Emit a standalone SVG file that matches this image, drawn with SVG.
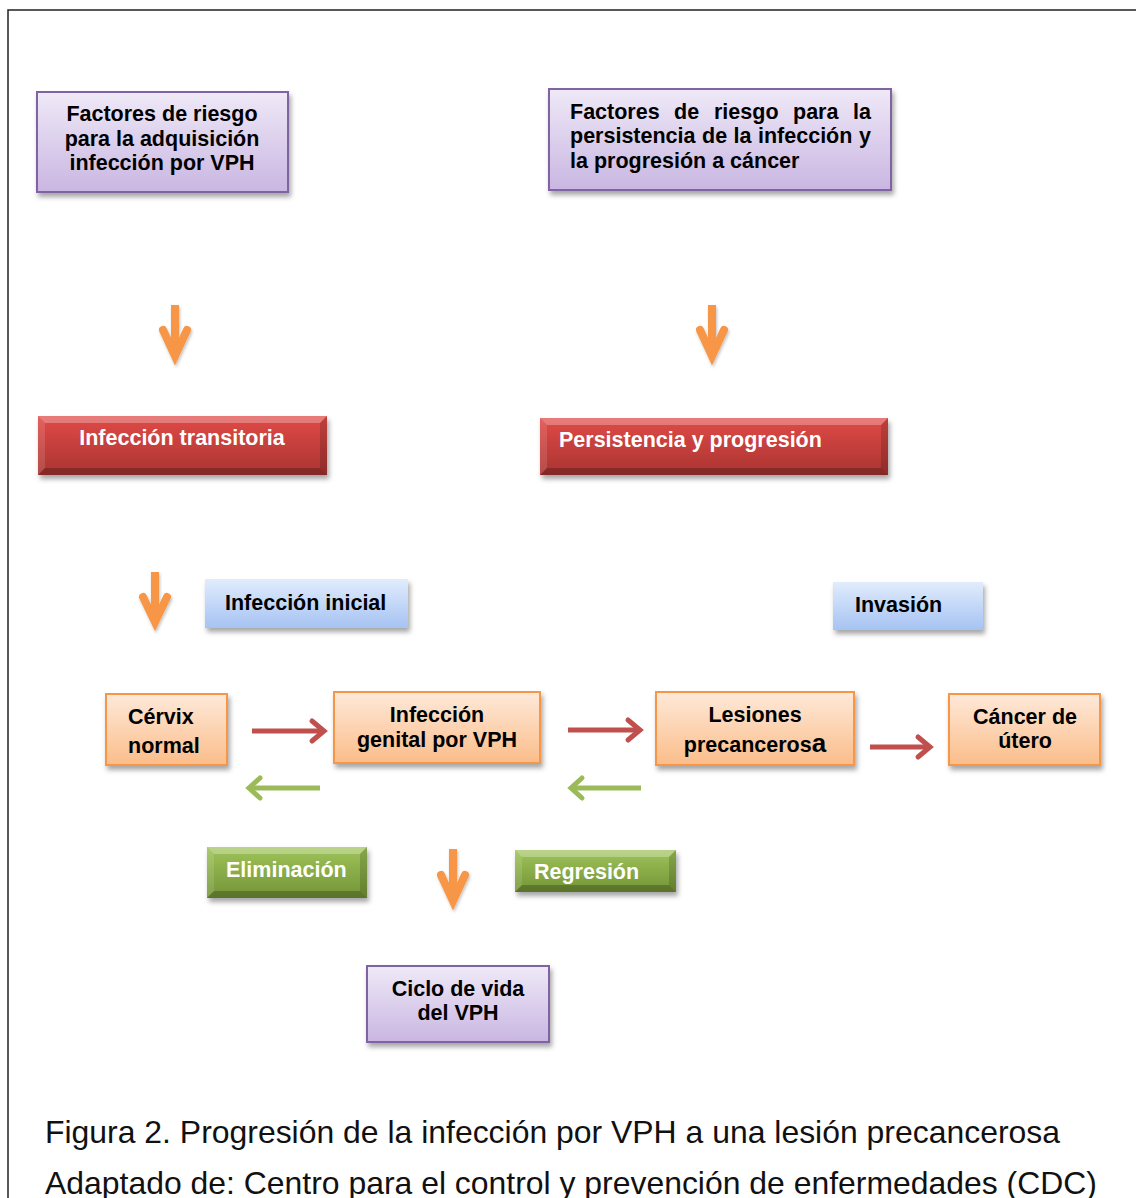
<svg xmlns="http://www.w3.org/2000/svg" width="1136" height="1198" viewBox="0 0 1136 1198">
<defs>
<linearGradient id="gPurple" x1="0" y1="0" x2="0" y2="1"><stop offset="0" stop-color="#efe9f7"/><stop offset="1" stop-color="#c9b6e2"/></linearGradient>
<linearGradient id="gOrange" x1="0" y1="0" x2="0" y2="1"><stop offset="0" stop-color="#fee9d9"/><stop offset="1" stop-color="#fbbd8a"/></linearGradient>
<linearGradient id="gBlue" x1="0" y1="0" x2="0" y2="1"><stop offset="0" stop-color="#e1ecfc"/><stop offset="1" stop-color="#a6c3f3"/></linearGradient>
<linearGradient id="gRed" x1="0" y1="0" x2="0" y2="1"><stop offset="0" stop-color="#e04a47"/><stop offset="1" stop-color="#a93431"/></linearGradient>
<linearGradient id="gGreen" x1="0" y1="0" x2="0" y2="1"><stop offset="0" stop-color="#9fc35a"/><stop offset="1" stop-color="#739436"/></linearGradient>
<filter id="sh" x="-10%" y="-20%" width="130%" height="160%"><feDropShadow dx="2" dy="4" stdDeviation="2.5" flood-color="#000" flood-opacity="0.35"/></filter>
<filter id="ash" x="-50%" y="-20%" width="200%" height="150%"><feDropShadow dx="1" dy="2" stdDeviation="1.5" flood-color="#000" flood-opacity="0.25"/></filter>
<style>
.t{font-family:"Liberation Sans",Arial,sans-serif;font-weight:bold;font-size:21.5px;fill:#000}
.w{font-family:"Liberation Sans",Arial,sans-serif;font-weight:bold;font-size:21.5px;fill:#fff}
.c{font-family:"Liberation Sans",Arial,sans-serif;font-size:31.5px;fill:#111}
.purple{fill:url(#gPurple);stroke:#8064a2;stroke-width:2}
.orange{fill:url(#gOrange);stroke:#f79646;stroke-width:2}
.blue{fill:url(#gBlue)}
.red{fill:url(#gRed)}
.green{fill:url(#gGreen)}
.bl{fill:#fff;opacity:0.28}
.bd{fill:#000;opacity:0.22}
.ao{fill:none;stroke:#f79646;stroke-width:8;stroke-linejoin:miter;stroke-linecap:round}
.ar{fill:none;stroke:#c0504d;stroke-width:5;stroke-linejoin:miter;stroke-linecap:round}
.ag{fill:none;stroke:#9bbb59;stroke-width:5;stroke-linejoin:miter;stroke-linecap:round}
.frame{fill:none;stroke:#222;stroke-width:1.5}
</style>
</defs>
<rect width="1136" height="1198" fill="#fff"/>
<path class="frame" d="M8,1198 V10 H1136"/>

<g id="connectors">
<g filter="url(#ash)">
<path class="ao" d="M175,305 V354" style="stroke-linecap:butt"/><path class="ao" d="M163,330 L175,356 L187,330"/>
<path class="ao" d="M712,305 V354" style="stroke-linecap:butt"/><path class="ao" d="M700,330 L712,356 L724,330"/>
<path class="ao" d="M155,572 V620" style="stroke-linecap:butt"/><path class="ao" d="M143,597 L155,622 L167,597"/>
<path class="ao" d="M453,849 V900" style="stroke-linecap:butt"/><path class="ao" d="M441,875 L453,901 L465,875"/>
</g>
<path class="ar" d="M252,731 H322" style="stroke-linecap:butt"/><path class="ar" d="M312,721 L324,731 L312,741"/>
<path class="ar" d="M568,730 H638" style="stroke-linecap:butt"/><path class="ar" d="M628,720 L640,730 L628,740"/>
<path class="ar" d="M870,747 H928" style="stroke-linecap:butt"/><path class="ar" d="M918,737 L930,747 L918,757"/>
<path class="ag" d="M320,788 H252" style="stroke-linecap:butt"/><path class="ag" d="M260,778 L249,788 L260,798"/>
<path class="ag" d="M641,788 H574" style="stroke-linecap:butt"/><path class="ag" d="M582,778 L571,788 L582,798"/>
</g>

<g id="n-factores-adq">
<rect class="purple" x="37" y="92" width="251" height="100" filter="url(#sh)"/>
<text class="t" text-anchor="middle"><tspan x="162" y="121">Factores de riesgo</tspan><tspan x="162" y="146">para la adquisición</tspan><tspan x="162" y="170">infección por VPH</tspan></text>
</g>

<g id="n-factores-pers">
<rect class="purple" x="549" y="89" width="342" height="101" filter="url(#sh)"/>
<text class="t"><tspan x="570" y="119">Factores</tspan><tspan x="674" y="119">de</tspan><tspan x="714" y="119">riesgo</tspan><tspan x="793" y="119">para</tspan><tspan x="853" y="119">la</tspan><tspan x="570" y="143">persistencia</tspan><tspan x="702" y="143">de</tspan><tspan x="733.5" y="143">la</tspan><tspan x="758" y="143">infección</tspan><tspan x="859" y="143">y</tspan><tspan x="570" y="168">la progresión a cáncer</tspan></text>
</g>

<g id="n-transitoria">
<rect class="red" x="38" y="416" width="289" height="59" filter="url(#sh)"/>
<polygon class="bl" points="38,416 327,416 320,423 45,423"/>
<polygon class="bl" points="38,416 45,423 45,468 38,475" style="opacity:0.12"/>
<polygon class="bd" points="327,416 327,475 320,468 320,423" style="opacity:0.15"/>
<polygon class="bd" points="38,475 327,475 320,468 45,468"/>
<text class="w" x="182" y="445" text-anchor="middle">Infección transitoria</text>
</g>

<g id="n-persistencia">
<rect class="red" x="540" y="418" width="348" height="57" filter="url(#sh)"/>
<polygon class="bl" points="540,418 888,418 881,425 547,425"/>
<polygon class="bl" points="540,418 547,425 547,468 540,475" style="opacity:0.12"/>
<polygon class="bd" points="888,418 888,475 881,468 881,425" style="opacity:0.15"/>
<polygon class="bd" points="540,475 888,475 881,468 547,468"/>
<text class="w" x="559" y="447">Persistencia y progresión</text>
</g>

<g id="n-inicial">
<rect class="blue" x="205" y="579" width="203" height="49" filter="url(#sh)"/>
<text class="t" x="225" y="610">Infección inicial</text>
</g>

<g id="n-invasion">
<rect class="blue" x="833" y="582" width="150" height="48" filter="url(#sh)"/>
<text class="t" x="855" y="612">Invasión</text>
</g>

<g id="n-cervix">
<rect class="orange" x="106" y="694" width="121" height="71" filter="url(#sh)"/>
<text class="t"><tspan x="128" y="724">Cérvix</tspan><tspan x="128" y="753">normal</tspan></text>
</g>

<g id="n-infeccion-genital">
<rect class="orange" x="334" y="692" width="206" height="71" filter="url(#sh)"/>
<text class="t" text-anchor="middle"><tspan x="437" y="722">Infección</tspan><tspan x="437" y="747">genital por VPH</tspan></text>
</g>

<g id="n-lesiones">
<rect class="orange" x="656" y="692" width="198" height="73" filter="url(#sh)"/>
<text class="t" text-anchor="middle"><tspan x="755" y="722">Lesiones</tspan><tspan x="755" y="752">precanceros<tspan style="font-size:26px">a</tspan></tspan></text>
</g>

<g id="n-cancer">
<rect class="orange" x="949" y="694" width="151" height="71" filter="url(#sh)"/>
<text class="t" text-anchor="middle"><tspan x="1025" y="724">Cáncer de</tspan><tspan x="1025" y="748">útero</tspan></text>
</g>

<g id="n-eliminacion">
<rect class="green" x="207" y="847" width="160" height="51" filter="url(#sh)"/>
<polygon class="bl" points="207,847 367,847 360,854 214,854"/>
<polygon class="bl" points="207,847 214,854 214,891 207,898" style="opacity:0.12"/>
<polygon class="bd" points="367,847 367,898 360,891 360,854" style="opacity:0.15"/>
<polygon class="bd" points="207,898 367,898 360,891 214,891"/>
<text class="w" x="226" y="877">Eliminación</text>
</g>

<g id="n-regresion">
<rect class="green" x="515" y="850" width="161" height="42" filter="url(#sh)"/>
<polygon class="bl" points="515,850 676,850 669,857 522,857"/>
<polygon class="bl" points="515,850 522,857 522,885 515,892" style="opacity:0.12"/>
<polygon class="bd" points="676,850 676,892 669,885 669,857" style="opacity:0.15"/>
<polygon class="bd" points="515,892 676,892 669,885 522,885"/>
<text class="w" x="534" y="879">Regresión</text>
</g>

<g id="n-ciclo">
<rect class="purple" x="367" y="966" width="182" height="76" filter="url(#sh)"/>
<text class="t" text-anchor="middle"><tspan x="458" y="996">Ciclo de vida</tspan><tspan x="458" y="1020">del VPH</tspan></text>
</g>

<g id="caption">
<text class="c" x="45" y="1143" textLength="1015" lengthAdjust="spacingAndGlyphs">Figura 2. Progresión de la infección por VPH a una lesión precancerosa</text>
<text class="c" x="45" y="1194" textLength="1052" lengthAdjust="spacingAndGlyphs">Adaptado de: Centro para el control y prevención de enfermedades (CDC)</text>
</g>
</svg>
